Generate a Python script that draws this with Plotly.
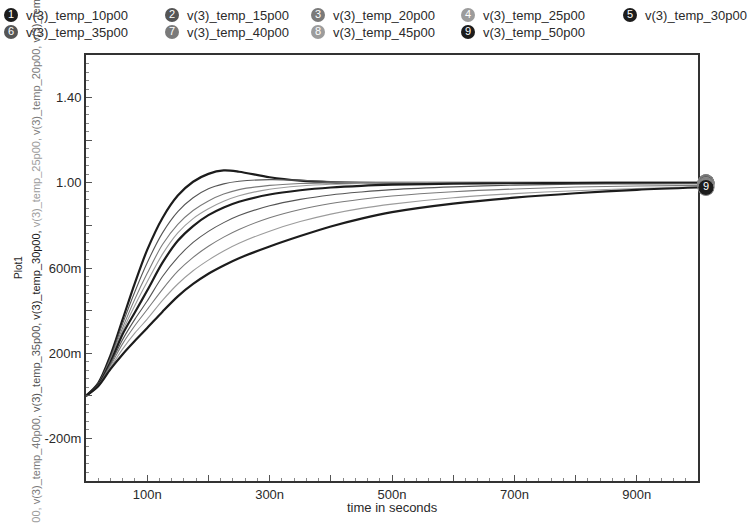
import plotly.graph_objects as go

# ---------------- data ----------------
t_ns = [0, 20, 40, 60, 80, 100, 125, 150, 175, 200, 225, 250, 300, 350, 400, 450, 500, 600, 700, 800, 900, 1000]

v_temp_10p00 = [0, .060, .190, .360, .530, .685, .835, .940, 1.005, 1.042, 1.058, 1.052, 1.026, 1.010, 1.002, 1.000, 1.000, 1.000, 1.000, 1.000, 1.000, 1.000]
v_temp_15p00 = [0, .058, .180, .340, .490, .625, .765, .865, .930, .972, .995, 1.007, 1.015, 1.012, 1.006, 1.002, 1.000, 1.000, 1.000, 1.000, 1.000, 1.000]
v_temp_20p00 = [0, .056, .172, .320, .455, .575, .710, .805, .870, .915, .947, .968, .988, .997, 1.000, 1.001, 1.000, 1.000, 1.000, 1.000, 1.000, 1.000]
v_temp_25p00 = [0, .054, .165, .305, .425, .535, .665, .765, .832, .878, .913, .939, .970, .985, .993, .997, .999, 1.000, 1.000, 1.000, 1.000, 1.000]
v_temp_30p00 = [0, .052, .158, .290, .392, .494, .625, .728, .797, .848, .884, .911, .945, .965, .978, .986, .991, .996, .998, .999, 1.000, 1.000]
v_temp_35p00 = [0, .050, .150, .265, .360, .445, .560, .650, .720, .772, .813, .846, .892, .922, .943, .957, .968, .981, .989, .993, .995, .996]
v_temp_40p00 = [0, .048, .142, .245, .330, .405, .500, .585, .650, .702, .745, .781, .836, .875, .903, .923, .938, .958, .971, .980, .985, .988]
v_temp_45p00 = [0, .046, .133, .220, .295, .360, .448, .525, .587, .637, .680, .716, .773, .818, .853, .880, .900, .930, .949, .963, .973, .981]
v_temp_50p00 = [0, .045, .125, .195, .258, .318, .395, .467, .525, .573, .612, .646, .701, .750, .795, .832, .862, .902, .930, .951, .967, .978]

series_names = ["v(3)_temp_10p00", "v(3)_temp_15p00", "v(3)_temp_20p00", "v(3)_temp_25p00",
                "v(3)_temp_30p00", "v(3)_temp_35p00", "v(3)_temp_40p00", "v(3)_temp_45p00",
                "v(3)_temp_50p00"]
series_values = [v_temp_10p00, v_temp_15p00, v_temp_20p00, v_temp_25p00, v_temp_30p00,
                 v_temp_35p00, v_temp_40p00, v_temp_45p00, v_temp_50p00]

x_tick_vals = [100, 200, 300, 400, 500, 600, 700, 800, 900]
x_tick_text = ["100n", "", "300n", "", "500n", "", "700n", "", "900n"]
y_tick_vals = [-0.4, -0.2, 0, 0.2, 0.4, 0.6, 0.8, 1.0, 1.2, 1.4, 1.6]
y_tick_text = ["", "-200m", "", "200m", "", "600m", "", "1.00", "", "1.40", ""]

# ---------------- styling ----------------
W, H = 755, 523
L, R, T, B = 86, 698, 55, 481
X_MAX = 1000
FONT = "Liberation Sans, Arial, sans-serif"
TXT = "#2a2a2a"

colors = ["#1c1c1c", "#555555", "#7a7a7a", "#9c9c9c", "#1c1c1c",
          "#555555", "#7a7a7a", "#9c9c9c", "#1c1c1c"]
widths = [2.2, 1.1, 1.1, 1.1, 2.2, 1.1, 1.1, 1.1, 2.2]

fig = go.Figure()

for name, vals, c, w in zip(series_names, series_values, colors, widths):
    fig.add_trace(go.Scatter(x=t_ns, y=vals, mode="lines", name=name,
                             line=dict(color=c, width=w, shape="spline", smoothing=0.9),
                             showlegend=False, hoverinfo="skip",
                             xaxis="x", yaxis="y"))

# end-of-trace numbered markers, on a wider invisible x axis sharing the same time scale
EXT_R = 716
for i, (vals, c) in enumerate(zip(series_values, colors)):
    fig.add_trace(go.Scatter(x=[t_ns[-1] + 13], y=[vals[-1]], mode="markers+text",
                             marker=dict(size=16, color=c, line=dict(color="#888888", width=1)),
                             text=[str(i + 1)], textposition="middle center",
                             textfont=dict(color="white", size=11, family=FONT),
                             showlegend=False, hoverinfo="skip",
                             xaxis="x3", yaxis="y"))

# legend built on a pixel overlay axis
leg_x = [11, 172, 318, 468, 630, 11, 172, 318, 468]
leg_y = [15, 15, 15, 15, 15, 32, 32, 32, 32]
fig.add_trace(go.Scatter(x=leg_x, y=leg_y, mode="markers+text",
                         marker=dict(size=14, color=colors),
                         text=[str(i + 1) for i in range(9)], textposition="middle center",
                         textfont=dict(color="white", size=11, family=FONT),
                         showlegend=False, hoverinfo="skip", cliponaxis=False,
                         xaxis="x2", yaxis="y2"))

annotations = []
for name, lx, ly in zip(series_names, leg_x, leg_y):
    annotations.append(dict(x=lx + 13, y=ly, xref="x2", yref="y2", text=name,
                            showarrow=False, xanchor="left", yanchor="middle",
                            font=dict(family=FONT, size=13, color=TXT)))

# vertical multi-colour series list at the left
parts = []
for k in range(8, -1, -1):
    sep = ", " if k > 0 else ""
    parts.append('<span style="color:%s">%s%s</span>' % (colors[k], series_names[k], sep))
annotations.append(dict(x=36, y=277, xref="x2", yref="y2", text="".join(parts),
                        textangle=-90, showarrow=False, xanchor="center", yanchor="middle",
                        font=dict(family=FONT, size=11, color=TXT)))
annotations.append(dict(x=18, y=268, xref="x2", yref="y2", text="Plot1",
                        textangle=-90, showarrow=False, xanchor="center", yanchor="middle",
                        font=dict(family=FONT, size=10, color=TXT)))
annotations.append(dict(x=(L + R) / 2, y=507, xref="x2", yref="y2", text="time in seconds",
                        showarrow=False, xanchor="center", yanchor="middle",
                        font=dict(family=FONT, size=13, color=TXT)))

fig.update_layout(
    width=W, height=H,
    margin=dict(l=0, r=0, t=0, b=0),
    paper_bgcolor="white", plot_bgcolor="rgba(0,0,0,0)",
    font=dict(family=FONT, size=13, color=TXT),
    xaxis=dict(domain=[L / W, R / W], range=[0, X_MAX], anchor="y",
               showline=True, mirror=True, linecolor="#333333", linewidth=2,
               showgrid=False, zeroline=False,
               ticks="inside", ticklen=6, tickcolor="#555555",
               tickvals=x_tick_vals, ticktext=x_tick_text,
               tickfont=dict(family=FONT, size=13, color=TXT),
               minor=dict(dtick=20, tick0=0, ticks="inside", ticklen=3, tickcolor="#888888")),
    yaxis=dict(domain=[1 - B / H, 1 - T / H], range=[-0.4, 1.6], anchor="x",
               showline=True, mirror=True, linecolor="#333333", linewidth=2,
               showgrid=False, zeroline=False,
               ticks="inside", ticklen=6, tickcolor="#555555",
               tickvals=y_tick_vals, ticktext=y_tick_text,
               tickfont=dict(family=FONT, size=13, color=TXT),
               minor=dict(dtick=0.04, tick0=0, ticks="inside", ticklen=3, tickcolor="#888888")),
    xaxis3=dict(domain=[L / W, EXT_R / W], range=[0, X_MAX * (EXT_R - L) / (R - L)],
                anchor="y", visible=False, fixedrange=True),
    xaxis2=dict(domain=[0, 1], range=[0, W], anchor="y2", visible=False, fixedrange=True),
    yaxis2=dict(domain=[0, 1], range=[H, 0], anchor="x2", visible=False, fixedrange=True),
    annotations=annotations,
    showlegend=False,
)

fig.write_html("out.html", config={"displayModeBar": False},
               post_script="document.body.style.margin='0';document.body.style.overflow='hidden';")
